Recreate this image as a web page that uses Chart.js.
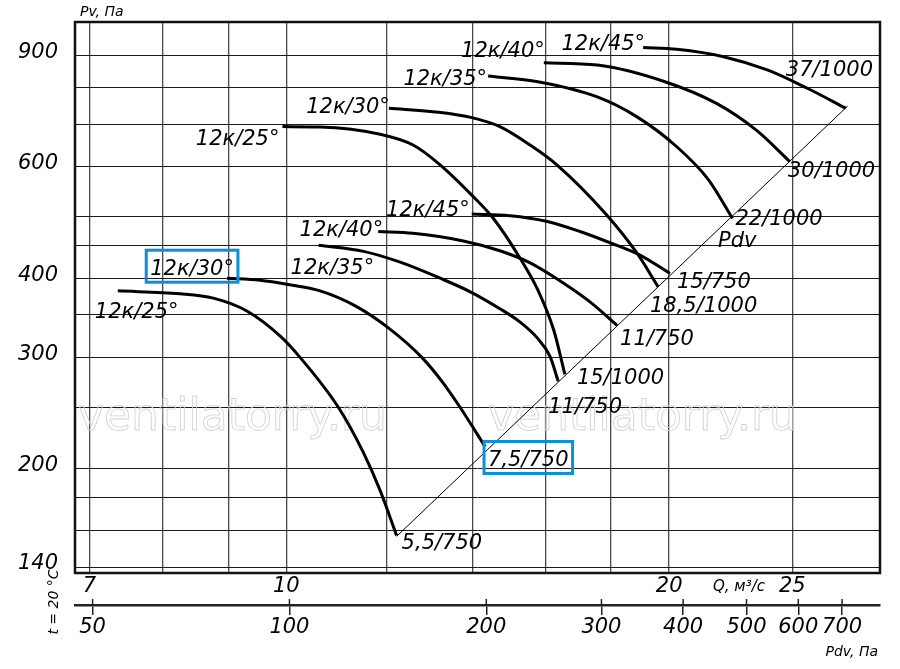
<!DOCTYPE html>
<html lang="ru">
<head>
<meta charset="utf-8">
<title>Pv(Q) 12к</title>
<script src="https://cdn.jsdelivr.net/npm/chart.js@4.4.1/dist/chart.umd.min.js"></script>
<style>
  html, body { margin: 0; padding: 0; background: #fff; }
  #chart { display: block; }
</style>
</head>
<body>
<canvas id="chart" width="900" height="669"></canvas>
<script>
// сетка и подписи осей
const qGrid = [7, 8, 9, 10, 12, 14, 16, 18, 20, 25];
const qLabels = [7, 10, 20, 25];
const pvGrid = [140, 160, 180, 200, 250, 300, 350, 400, 450, 500, 600, 700, 800, 900];
const pvLabels = [140, 200, 300, 400, 600, 900];
const pdvTicks = [50, 100, 200, 300, 400, 500, 600, 700];

// 750 об/мин
const q750_25 = [7.37, 8.25, 8.76, 9.31, 9.89, 10.25, 10.99, 11.5, 11.85, 12.21];
const pv750_25 = [382, 378, 372, 355, 324, 300, 250, 212, 185, 157];
const q750_30 = [8.98, 9.53, 10.03, 10.63, 11.32, 12.05, 12.78, 13.29, 13.7, 14.33];
const pv750_30 = [400, 397, 391, 382, 362, 333, 300, 273, 250, 217];
const q750_35 = [10.6, 11.5, 12.29, 13.21, 13.94, 14.72, 15.27, 15.75, 16.12, 16.36];
const pv750_35 = [451, 441, 424, 400, 381, 358, 341, 322, 301, 275];
const q750_40 = [11.81, 12.58, 13.78, 14.72, 15.55, 16.42, 17.33, 18.2];
const pv750_40 = [474, 471, 458, 442, 423, 396, 367, 337];
const q750_45 = [13.99, 14.99, 16.01, 17.02, 17.97, 18.97, 20.03];
const pv750_45 = [505, 502, 492, 474, 455, 435, 407];

// 1000 об/мин
const q1000_25 = [9.93, 10.63, 11.85, 12.58, 13.21, 13.99, 14.55, 15.27, 15.77, 16.23, 16.56];
const pv1000_25 = [694, 693, 675, 649, 604, 541, 497, 430, 383, 331, 282];
const q1000_30 = [12.04, 13.18, 13.99, 14.72, 15.55, 16.32, 17.82, 18.87, 19.6];
const pv1000_30 = [742, 731, 717, 694, 649, 604, 506, 438, 388];
const q1000_35 = [14.41, 15.77, 17.56, 18.87, 20.28, 21.48, 22.43];
const pv1000_35 = [834, 817, 773, 719, 645, 572, 497];
const q1000_40 = [15.94, 17.56, 19.85, 21.79, 23.42, 24.89];
const pv1000_40 = [875, 868, 817, 755, 685, 611];
const q1000_45 = [19.08, 20.28, 22.11, 23.92, 25.71, 27.54];
const pv1000_45 = [925, 919, 894, 852, 797, 742];

// линия Pdv
const qPdvLine = [12.21, 27.63];
const pvPdvLine = [156.5, 747.7];

// подписи кривых
const curveNames = ['12к/25°', '12к/30°', '12к/35°', '12к/40°', '12к/45°',
                    '12к/25°', '12к/30°', '12к/35°', '12к/40°', '12к/45°'];
const endLabels = ['5,5/750', '7,5/750', '11/750', '11/750', '15/750',
                   '15/1000', '18,5/1000', '22/1000', '30/1000', '37/1000'];

const curveQ = [q750_25, q750_30, q750_35, q750_40, q750_45, q1000_25, q1000_30, q1000_35, q1000_40, q1000_45];
const curvePv = [pv750_25, pv750_30, pv750_35, pv750_40, pv750_45, pv1000_25, pv1000_30, pv1000_35, pv1000_40, pv1000_45];

// смещения подписей (пиксели) от начала / конца кривой
const nameOffsets = [
    { align: 'left', dx: -23, dy: 20 },
    { align: 'right', dx: 7, dy: -11, box: true },
    { align: 'left', dx: -28, dy: 21 },
    { align: 'right', dx: 5, dy: -3 },
    { align: 'right', dx: -2, dy: -6 },
    { align: 'right', dx: -3, dy: 11 },
    { align: 'right', dx: 1, dy: -3 },
    { align: 'right', dx: -1, dy: 1 },
    { align: 'right', dx: 1, dy: -13 },
    { align: 'right', dx: 2, dy: -5 },
];
const endOffsets = [
    { dx: 5, dy: 6 },
    { dx: 3, dy: 12, box: true },
    { dx: -10, dy: 24 },
    { dx: 3, dy: 12 },
    { dx: 7, dy: 7 },
    { dx: 12, dy: 2 },
    { dx: -8, dy: 18 },
    { dx: 3, dy: -1 },
    { dx: -2, dy: 8 },
    { dx: -60, dy: -40 },
];

const FONT = '"DejaVu Sans", "Liberation Sans", sans-serif';
const BOX_COLOR = '#0b8fd9';

function italic(size) {
    return `italic ${size}px ${FONT}`;
}

// текст по центру строки цифр
function drawText(ctx, text, x, yMid, align, size) {
    ctx.font = italic(size);
    ctx.textAlign = align;
    ctx.textBaseline = 'alphabetic';
    ctx.fillText(text, x, yMid + size * 0.36);
    return ctx.measureText(text).width;
}

function drawBox(ctx, left, right, yMid) {
    ctx.save();
    ctx.strokeStyle = BOX_COLOR;
    ctx.lineWidth = 3;
    ctx.strokeRect(left - 4, yMid - 17, right - left + 8, 32);
    ctx.restore();
}

// убрать лишние поля, которые Chart.js оставляет под крайние подписи
function noPadding(s) {
    s.paddingTop = 0;
    s.paddingBottom = 0;
    s.paddingLeft = 0;
    s.paddingRight = 0;
}

// водяной знак, рамка и подписи
const decorPlugin = {
    id: 'decor',
    beforeDatasetsDraw(chart) {
        const ctx = chart.ctx;
        ctx.save();
        ctx.font = `44px ${FONT}`;
        ctx.textAlign = 'left';
        ctx.textBaseline = 'alphabetic';
        ctx.strokeStyle = '#d4d4d4';
        ctx.lineWidth = 0.9;
        ctx.strokeText('ventilatorry.ru', 78, 430);
        ctx.strokeText('ventilatorry.ru', 488, 430);
        ctx.restore();
    },
    afterDatasetsDraw(chart) {
        const ctx = chart.ctx;
        const area = chart.chartArea;
        const xs = chart.scales.x;
        const ys = chart.scales.y;
        const ps = chart.scales.pdv;

        ctx.save();
        ctx.strokeStyle = '#111';
        ctx.lineWidth = 2.5;
        ctx.strokeRect(area.left, area.top, area.right - area.left, area.bottom - area.top);

        // засечки шкалы Pdv чуть выше линии
        ctx.strokeStyle = '#222';
        ctx.lineWidth = 1.5;
        pdvTicks.forEach(v => {
            const px = ps.getPixelForValue(v);
            ctx.beginPath();
            ctx.moveTo(px, ps.top - 6);
            ctx.lineTo(px, ps.top);
            ctx.stroke();
        });

        ctx.fillStyle = '#000';
        curveQ.forEach((q, i) => {
            const pv = curvePv[i];
            const sx = xs.getPixelForValue(q[0]);
            const sy = ys.getPixelForValue(pv[0]);
            const no = nameOffsets[i];
            const nx = sx + no.dx;
            const ny = sy + no.dy;
            const w = drawText(ctx, curveNames[i], nx, ny, no.align, 21);
            if (no.box) {
                const left = no.align === 'right' ? nx - w : nx;
                drawBox(ctx, left, left + w, ny);
            }

            const last = q.length - 1;
            const ex = xs.getPixelForValue(q[last]) + endOffsets[i].dx;
            const ey = ys.getPixelForValue(pv[last]) + endOffsets[i].dy;
            const ew = drawText(ctx, endLabels[i], ex, ey, 'left', 21);
            if (endOffsets[i].box) {
                drawBox(ctx, ex, ex + ew, ey);
            }
        });

        drawText(ctx, 'Pdv', xs.getPixelForValue(21.85), ys.getPixelForValue(460), 'left', 21);

        // подписи осей
        drawText(ctx, 'Pv, Па', 80, 11, 'left', 14);
        drawText(ctx, 'Q, м³/с', 713, 586, 'left', 15);
        drawText(ctx, 'Pdv, Па', 878, 651, 'right', 14);

        ctx.translate(53, 602);
        ctx.rotate(-Math.PI / 2);
        drawText(ctx, 't = 20 °C', 0, 0, 'center', 14);
        ctx.restore();
    }
};

function curveDataset(q, pv) {
    return {
        data: q.map((v, i) => ({ x: v, y: pv[i] })),
        borderColor: '#000',
        borderWidth: 3,
        pointRadius: 0,
        fill: false,
        cubicInterpolationMode: 'monotone',
    };
}

const datasets = curveQ.map((q, i) => curveDataset(q, curvePv[i]));
datasets.push({
    data: qPdvLine.map((v, i) => ({ x: v, y: pvPdvLine[i] })),
    borderColor: '#000',
    borderWidth: 1,
    pointRadius: 0,
    fill: false,
});

const tickFont = { family: FONT, size: 21, style: 'italic' };

new Chart(document.getElementById('chart'), {
    type: 'line',
    data: { datasets },
    options: {
        responsive: false,
        animation: false,
        layout: { padding: { top: 22, right: 20, left: 0, bottom: 0 } },
        plugins: {
            legend: { display: false },
            tooltip: { enabled: false },
        },
        scales: {
            x: {
                type: 'logarithmic',
                position: 'bottom',
                weight: 1,
                min: 6.82,
                max: 29.3,
                afterFit: s => { s.height = 32; noPadding(s); },
                afterBuildTicks: s => { s.ticks = qGrid.map(v => ({ value: v })); },
                ticks: {
                    callback: v => qLabels.includes(v) ? String(v) : '',
                    font: tickFont,
                    color: '#000',
                    padding: 1,
                    autoSkip: false,
                    maxRotation: 0,
                },
                grid: { color: '#4a4a4a', lineWidth: 1.3, drawTicks: false },
                border: { display: false },
            },
            pdv: {
                axis: 'x',
                type: 'logarithmic',
                position: 'bottom',
                weight: 2,
                min: 47,
                max: 800,
                afterFit: s => { s.height = 64; noPadding(s); },
                afterBuildTicks: s => { s.ticks = pdvTicks.map(v => ({ value: v })); },
                ticks: {
                    callback: v => String(v),
                    font: tickFont,
                    color: '#000',
                    padding: 0,
                    autoSkip: false,
                    maxRotation: 0,
                },
                grid: { drawOnChartArea: false, drawTicks: true, tickLength: 10, color: '#222', lineWidth: 1.5 },
                border: { display: true, color: '#222', width: 2.5 },
            },
            y: {
                type: 'logarithmic',
                position: 'left',
                min: 137,
                max: 1015,
                afterFit: s => { s.width = 75; noPadding(s); },
                afterBuildTicks: s => { s.ticks = pvGrid.map(v => ({ value: v })); },
                ticks: {
                    callback: v => pvLabels.includes(v) ? String(v) : '',
                    font: tickFont,
                    color: '#000',
                    padding: 17,
                    labelOffset: -3,
                    autoSkip: false,
                },
                grid: { color: '#1a1a1a', lineWidth: 1, drawTicks: false },
                border: { display: false },
            },
        },
    },
    plugins: [decorPlugin],
});
</script>
</body>
</html>
